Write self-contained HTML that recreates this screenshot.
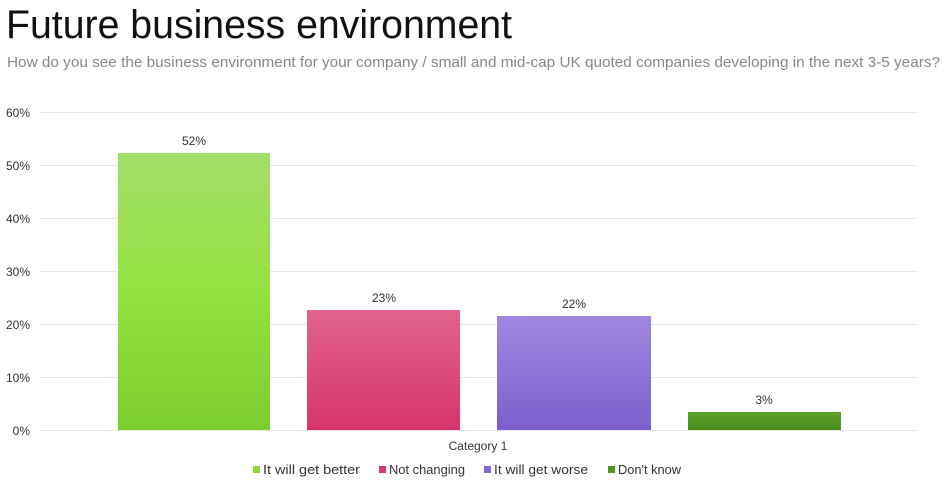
<!DOCTYPE html>
<html><head><style>
body{margin:0;width:947px;height:487px;background:#fff;overflow:hidden;font-family:"Liberation Sans",sans-serif}
</style></head><body>
<svg width="947" height="487" xmlns="http://www.w3.org/2000/svg" font-family="Liberation Sans, sans-serif">
<defs>
<linearGradient id="g1" x1="0" y1="0" x2="0" y2="1"><stop offset="0" stop-color="#a3df6a"/><stop offset="0.5" stop-color="#94e23f"/><stop offset="1" stop-color="#7ccd2e"/></linearGradient>
<linearGradient id="g2" x1="0" y1="0" x2="0" y2="1"><stop offset="0" stop-color="#e2648e"/><stop offset="1" stop-color="#d6346c"/></linearGradient>
<linearGradient id="g3" x1="0" y1="0" x2="0" y2="1"><stop offset="0" stop-color="#9f87e0"/><stop offset="1" stop-color="#7c5fcd"/></linearGradient>
<linearGradient id="g4" x1="0" y1="0" x2="0" y2="1"><stop offset="0" stop-color="#5fa328"/><stop offset="1" stop-color="#4a8c1a"/></linearGradient>
</defs>
<text x="6" y="38" font-size="40" fill="#111" textLength="506" lengthAdjust="spacingAndGlyphs">Future business environment</text>
<text x="7" y="67" font-size="15" fill="#888" textLength="933" lengthAdjust="spacingAndGlyphs">How do you see the business environment for your company / small and mid-cap UK quoted companies developing in the next 3-5 years?</text>
<g stroke="#e6e6ec" stroke-width="1">
<line x1="40" x2="918" y1="112.5" y2="112.5"/><line x1="40" x2="918" y1="165.5" y2="165.5"/><line x1="40" x2="918" y1="218.5" y2="218.5"/><line x1="40" x2="918" y1="271.5" y2="271.5"/><line x1="40" x2="918" y1="324.5" y2="324.5"/><line x1="40" x2="918" y1="377.5" y2="377.5"/><line x1="40" x2="918" y1="430.5" y2="430.5"/>
</g>
<g font-size="12" fill="#333" text-anchor="end">
<text x="30" y="117">60%</text><text x="30" y="170">50%</text><text x="30" y="223">40%</text><text x="30" y="276">30%</text><text x="30" y="329">20%</text><text x="30" y="382">10%</text><text x="30" y="435">0%</text>
</g>
<rect x="118" y="153" width="152" height="277" fill="url(#g1)"/>
<rect x="307" y="310" width="153" height="120" fill="url(#g2)"/>
<rect x="497" y="316" width="154" height="114" fill="url(#g3)"/>
<rect x="688" y="412" width="153" height="18" fill="url(#g4)"/>
<g font-size="12" fill="#333" text-anchor="middle">
<text x="194" y="145">52%</text><text x="384" y="302">23%</text><text x="574" y="308">22%</text><text x="764" y="404">3%</text>
<text x="478" y="450">Category 1</text>
</g>
<g font-size="13" fill="#333">
<rect x="253" y="466" width="7" height="7" fill="#8ed63c"/><text x="263" y="474" textLength="97" lengthAdjust="spacingAndGlyphs">It will get better</text>
<rect x="379" y="466" width="7" height="7" fill="#d83a70"/><text x="389" y="474" textLength="76" lengthAdjust="spacingAndGlyphs">Not changing</text>
<rect x="484" y="466" width="7" height="7" fill="#8468d4"/><text x="494" y="474" textLength="94" lengthAdjust="spacingAndGlyphs">It will get worse</text>
<rect x="608" y="466" width="7" height="7" fill="#52941e"/><text x="618" y="474" textLength="63" lengthAdjust="spacingAndGlyphs">Don't know</text>
</g>
</svg>
</body></html>
